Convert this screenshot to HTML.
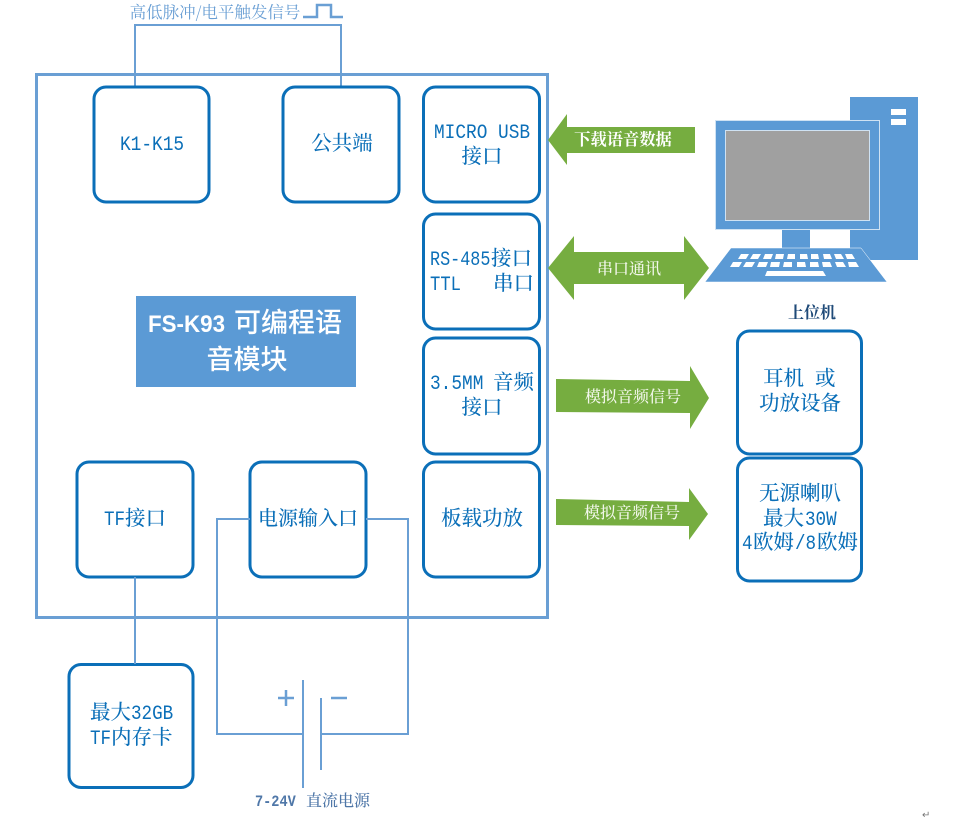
<!DOCTYPE html>
<html><head><meta charset="utf-8"><style>
html,body{margin:0;padding:0;background:#fff;width:967px;height:819px;overflow:hidden}
svg{display:block}
text{font-family:"Liberation Serif","Noto Serif CJK SC",serif}
.b{fill:#fff;stroke:#0b6fb8;stroke-width:3}
.l{fill:none;stroke:#6a9fd4;stroke-width:2}
.t{fill:#0b6fb8;font-size:20.5px;text-anchor:middle;font-family:"Noto Serif CJK SC",serif;font-weight:500}
.s{fill:#0b6fb8;font-size:20.5px;font-family:"Noto Serif CJK SC",serif;font-weight:500}
.m{fill:#0b6fb8;font-size:20px;font-family:"Liberation Mono",monospace}
.w{fill:#f2f7ea;font-size:16px;text-anchor:middle;font-family:"Noto Serif CJK SC",serif;font-weight:500}
.g{fill:#76ad40}
</style></head><body>
<svg width="967" height="819" viewBox="0 0 967 819" xmlns="http://www.w3.org/2000/svg">
<rect x="36.5" y="74.5" width="511" height="543" fill="none" stroke="#6a9fd4" stroke-width="3"/>
<path class="l" d="M135 86V25H341V86"/>
<path d="M303 17H317V5H331V17H343" fill="none" stroke="#6a9fd4" stroke-width="2.500"/>
<text x="215" y="18" font-size="16.5" text-anchor="middle" fill="#6a9fd4" style="font-family:'Noto Serif CJK SC',serif">高低脉冲/电平触发信号</text>

<rect class="b" x="94" y="87" width="115" height="115" rx="12"/>
<rect class="b" x="283" y="87" width="116" height="115" rx="12"/>
<rect class="b" x="423.500" y="87" width="116" height="115" rx="12"/>
<rect class="b" x="423.500" y="214" width="116" height="115" rx="12"/>
<rect class="b" x="423.500" y="338" width="116" height="116" rx="12"/>
<rect class="b" x="423.500" y="462" width="116" height="115" rx="12"/>
<rect class="b" x="77" y="462" width="116" height="115" rx="12"/>
<rect class="b" x="250" y="462" width="116" height="115" rx="12"/>
<rect class="b" x="737.500" y="331" width="124" height="123" rx="12"/>
<rect class="b" x="737.500" y="458" width="124" height="123" rx="12"/>
<rect class="b" x="69" y="664.500" width="124" height="123" rx="12"/>

<text class="m" transform="translate(120,150) scale(.89,1)">K1-K15</text>
<text class="t" x="342" y="150">公共端</text>
<text class="m" transform="translate(434,138) scale(.89,1)" xml:space="preserve">MICRO USB</text>
<text class="t" x="482" y="163">接口</text>
<text class="m" transform="translate(430,265) scale(.84,1)">RS-485</text>
<text class="s" x="491" y="265">接口</text>
<text class="m" transform="translate(430,290) scale(.86,1)">TTL</text>
<text class="s" x="493" y="290">串口</text>
<text class="m" transform="translate(430,389) scale(.89,1)">3.5MM</text>
<text class="s" x="493" y="389">音频</text>
<text class="t" x="482" y="414">接口</text>
<text class="t" x="482" y="525">板载功放</text>
<text class="m" transform="translate(104,525) scale(.88,1)">TF</text>
<text class="s" x="125" y="525">接口</text>
<text class="t" x="308" y="525" style="font-size:20px">电源输入口</text>
<text class="s" x="763" y="385">耳机</text>
<text class="s" x="815" y="385">或</text>
<text class="t" x="800" y="410">功放设备</text>
<text class="t" x="800" y="500">无源喇叭</text>
<text class="s" x="763" y="525">最大</text>
<text class="m" transform="translate(805,525) scale(.88,1)">30W</text>
<text class="m" transform="translate(742,549) scale(.88,1)">4</text>
<text class="s" x="753" y="549">欧姆</text>
<text class="m" transform="translate(795,549) scale(.88,1)">/8</text>
<text class="s" x="817" y="549">欧姆</text>
<text class="s" x="90" y="719">最大</text>
<text class="m" transform="translate(131,719) scale(.88,1)">32GB</text>
<text class="m" transform="translate(90,744) scale(.88,1)">TF</text>
<text class="s" x="111" y="744">内存卡</text>

<rect x="136" y="296" width="220" height="91" fill="#5b9ad5"/>
<text x="148" y="332" font-size="24" fill="#fff" font-weight="bold" textLength="77" lengthAdjust="spacingAndGlyphs" style="font-family:'Liberation Sans',sans-serif">FS-K93</text>
<text x="234" y="332" font-size="27" fill="#fff" font-weight="500" style="font-family:'Noto Sans CJK SC',sans-serif">可编程语</text>
<text x="247" y="369" font-size="27" fill="#fff" text-anchor="middle" font-weight="500" style="font-family:'Noto Sans CJK SC',sans-serif">音模块</text>

<path class="g" d="M548 140L567 114V127H695V153H567V165Z"/>
<text x="623" y="145" font-size="16.3" fill="#fff" text-anchor="middle" font-weight="bold" style="font-family:'Noto Serif CJK SC',serif">下载语音数据</text>
<path class="g" d="M548 268L574 236V252H684V236L709 268L684 300V284H574V300Z"/>
<text class="w" x="629" y="274">串口通讯</text>
<path class="g" d="M556 379L690 381V366L709 398L690 429V413L556 412Z"/>
<text class="w" x="633" y="402">模拟音频信号</text>
<path class="g" d="M556 499L689 502V488L708 514L689 540V526L556 525Z"/>
<text class="w" x="632" y="518">模拟音频信号</text>

<rect x="850" y="97" width="68" height="163" fill="#5b9ad5"/>
<rect x="891" y="109" width="15" height="6" fill="#fff"/>
<rect x="891" y="119" width="15" height="6" fill="#fff"/>
<rect x="715.500" y="120.500" width="164" height="109" fill="#5b9ad5" stroke="#cfe2f3"/>
<rect x="725.500" y="130.500" width="144" height="90" fill="#a0a0a0" stroke="#cfe2f3"/>
<rect x="782" y="230" width="28" height="18" fill="#5b9ad5"/>
<path d="M731 248H861L887 282H705Z" fill="#5b9ad5" stroke="#fff" stroke-width="0.500"/>
<g fill="#fff">
<path d="M741 254h8l-3 5h-8zM753 254h8l-3 5h-8zM765 254h8l-2 5h-8zM776 254h8l-1 5h-8zM788 254h7v5h-8zM800 254h7l1 5h-8zM811 254h7l1 5h-8zM823 254h7l2 5h-8zM834 254h7l3 5h-8zM845 254h7l3 5h-8z"/>
<path d="M733 262h9l-3 5h-9zM746 262h9l-3 5h-9zM759 262h9l-2 5h-9zM771 262h9l-1 5h-9zM784 262h8v5h-9zM797 262h8l1 5h-9zM810 262h8l1 5h-9zM822 262h8l2 5h-9zM835 262h8l3 5h-9zM848 262h8l3 5h-10z"/>
<path d="M767 271h56l3 5h-61z"/>
</g>
<text x="812" y="318" font-size="16" fill="#1f4a78" text-anchor="middle" font-weight="700" style="font-family:'Noto Serif CJK SC',serif">上位机</text>

<path class="l" d="M135 577V664"/>
<path class="l" d="M250 519H217V734H303M303 680V788"/>
<path class="l" d="M366 519H408V734H321M321 698V770"/>
<path d="M278 698H294M286 690V706M331 698H347" fill="none" stroke="#6a9fd4" stroke-width="2.500"/>
<text transform="translate(255,806) scale(.85,1)" font-size="16" fill="#4f77a8" font-weight="bold" style="font-family:'Liberation Mono',monospace">7-24V</text>
<text x="306" y="806" font-size="16" fill="#4f77a8" font-weight="500" style="font-family:'Noto Serif CJK SC',serif">直流电源</text>
<text x="922" y="818" font-size="10" fill="#777">↵</text>
</svg>
</body></html>
